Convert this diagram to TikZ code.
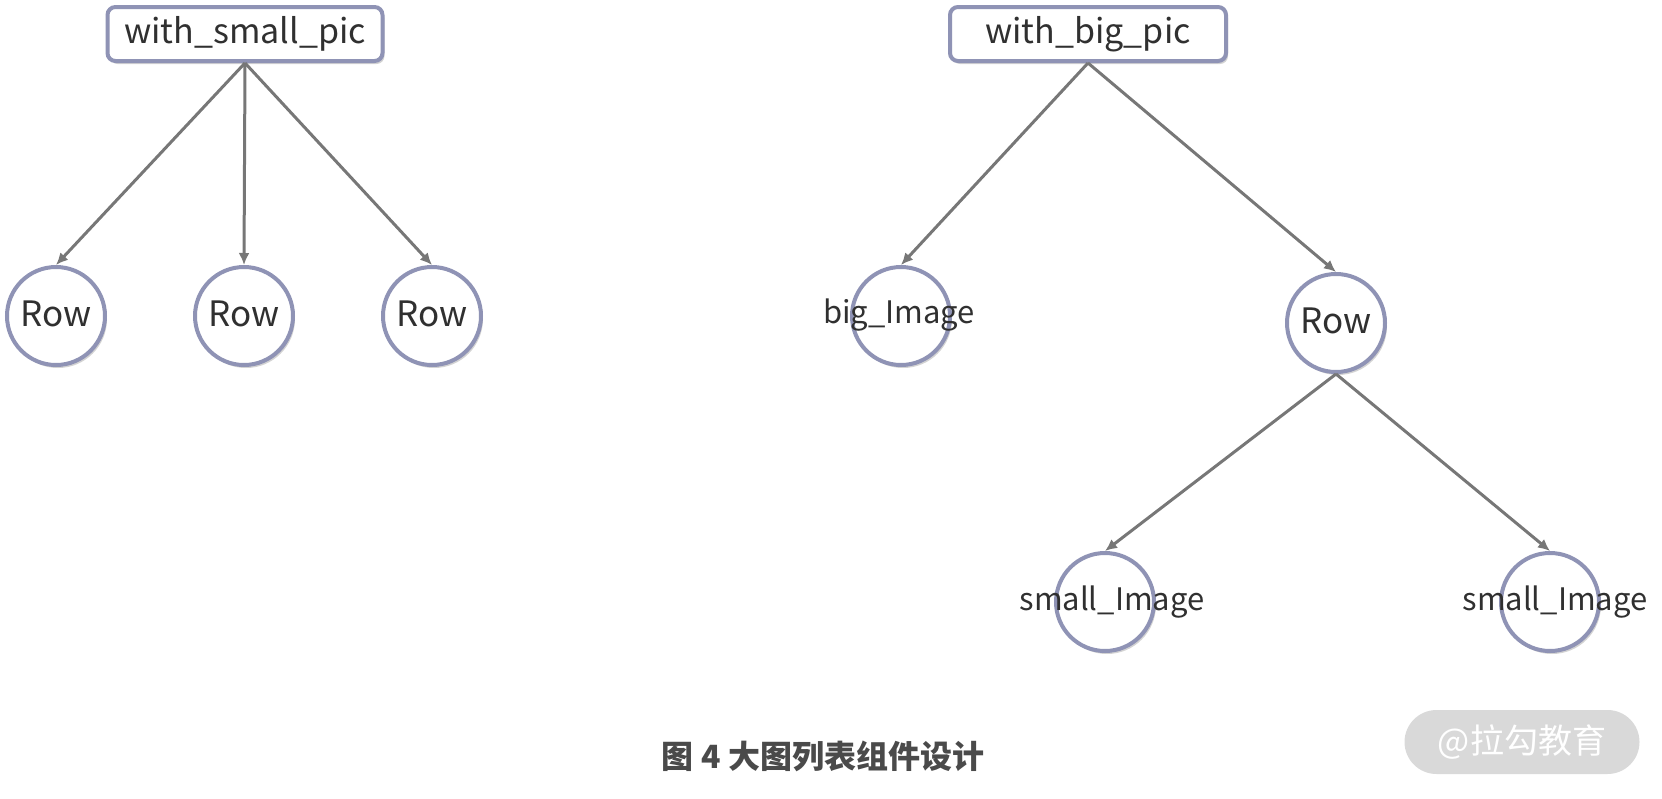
\documentclass[tikz,border=0pt]{standalone}
\usepackage{fontspec}
\setmainfont{Noto Sans CJK SC}
\newfontfamily\cjk{Noto Sans CJK SC}
\usetikzlibrary{shapes.geometric,shadows,arrows.meta}
\definecolor{ringc}{HTML}{8F93B5}
\definecolor{txtc}{HTML}{303030}
\definecolor{arrc}{HTML}{777777}
\definecolor{capc}{HTML}{4A4A4A}
\definecolor{wmc}{HTML}{D9D9D9}
\tikzset{
  shad/.style={drop shadow={opacity=0.35,shadow xshift=2pt,shadow yshift=-3pt}},
  rootbox/.style={draw=ringc,line width=4pt,rounded corners=8pt,fill=white,shad,
    minimum height=54pt,inner sep=0pt,text=txtc,font=\fontsize{34}{38}\selectfont},
  ringnode/.style={draw=ringc,line width=4pt,fill=white,shad,circle,inner sep=0pt,minimum size=98pt},
  bigtxt/.style={text=txtc,font=\fontsize{35}{38}\selectfont},
  smltxt/.style={text=txtc,font=\fontsize{31}{34}\selectfont},
  conn/.style={draw=arrc,line width=3pt,-{Latex[length=12pt,width=11pt]}}
}
\begin{document}
\begin{tikzpicture}[x=1pt,y=-1pt]
\useasboundingbox (0,0) rectangle (1662,798);
% left tree
\node[rootbox,minimum width=275pt] (wsp) at (245,34) {with\_small\_pic};
\node[ringnode,label={[name=r1t,bigtxt,yshift=2pt]center:Row}] (r1) at (56,316) {};
\node[ringnode,label={[name=r2t,bigtxt,yshift=2pt]center:Row}] (r2) at (244,316) {};
\node[ringnode,label={[name=r3t,bigtxt,yshift=2pt]center:Row}] (r3) at (432,316) {};
\draw[conn] (wsp.south) -- (r1.north);
\draw[conn] (wsp.south) -- (r2.north);
\draw[conn] (wsp.south) -- (r3.north);
% right tree
\node[rootbox,minimum width=276pt] (wbp) at (1088,34) {with\_big\_pic};
\node[ringnode,label={[name=bit,smltxt,xshift=-2pt,yshift=1pt]center:big\_Image}] (bi) at (901,316) {};
\node[ringnode,label={[name=r4t,bigtxt,yshift=2pt]center:Row}] (r4) at (1336,323) {};
\node[ringnode,label={[name=s1t,smltxt,xshift=7pt,yshift=0pt]center:small\_Image}] (s1) at (1105,602) {};
\node[ringnode,label={[name=s2t,smltxt,xshift=5pt,yshift=0pt]center:small\_Image}] (s2) at (1550,602) {};
\draw[conn] (wbp.south) -- (bi.north);
\draw[conn] (wbp.south) -- (r4.north);
\draw[conn] (r4.south) -- (s1.north);
\draw[conn] (r4.south) -- (s2.north);
% caption
\node[text=capc,font=\cjk\bfseries\fontsize{32}{36}\selectfont] (cap) at (823,756) {图 4 大图列表组件设计};
% watermark
\node[fill=wmc,rounded corners=32pt,minimum width=235pt,minimum height=64pt,
  text=white,font=\cjk\fontsize{34}{38}\selectfont] (wm) at (1522,742) {@拉勾教育};
\end{tikzpicture}
\end{document}
